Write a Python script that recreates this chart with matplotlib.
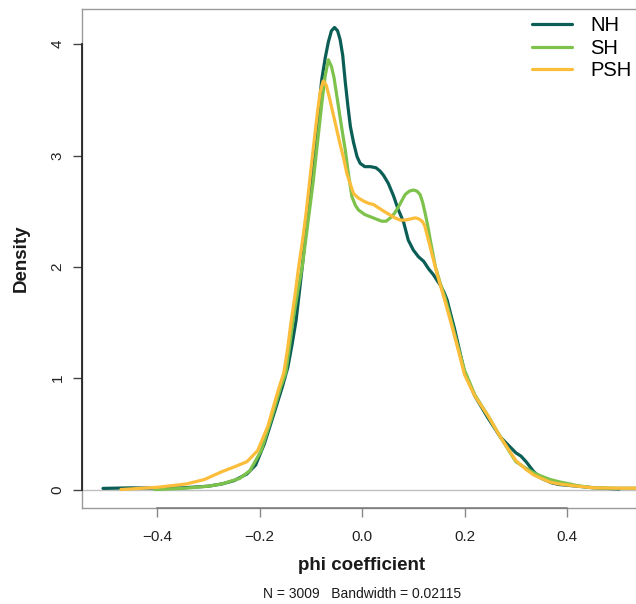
import matplotlib
matplotlib.use("Agg")
import matplotlib.pyplot as plt

plt.rcParams['font.family'] = ['Liberation Sans', 'DejaVu Sans']

# ---- data ----
series_names = ["NH", "SH", "PSH"]
series_colors = ["#0B5E55", "#7DC24B", "#FBBD3A"]

nh_x = [-0.506, -0.45, -0.40, -0.35, -0.30, -0.274, -0.25, -0.225, -0.208, -0.191,
        -0.173, -0.156, -0.145, -0.137, -0.129, -0.117, -0.106, -0.097, -0.088, -0.079,
        -0.072, -0.066, -0.060, -0.054, -0.048, -0.043, -0.038, -0.033, -0.028, -0.023,
        -0.017, -0.010, -0.004, 0.005, 0.016, 0.027, 0.035, 0.042, 0.051, 0.061,
        0.070, 0.081, 0.090, 0.100, 0.110, 0.120, 0.130, 0.139, 0.146, 0.152,
        0.160, 0.166, 0.172, 0.180, 0.190, 0.200, 0.220, 0.246, 0.270, 0.285,
        0.300, 0.310, 0.320, 0.335, 0.350, 0.370, 0.384, 0.420, 0.453, 0.502]
nh_d = [0.01, 0.015, 0.012, 0.015, 0.03, 0.05, 0.08, 0.14, 0.22, 0.41,
        0.67, 0.92, 1.10, 1.30, 1.52, 2.00, 2.50, 2.90, 3.25, 3.68,
        3.88, 4.02, 4.12, 4.15, 4.12, 4.04, 3.90, 3.66, 3.45, 3.26,
        3.12, 2.99, 2.93, 2.90, 2.90, 2.89, 2.86, 2.82, 2.75, 2.64,
        2.52, 2.40, 2.24, 2.15, 2.09, 2.05, 1.98, 1.93, 1.88, 1.84,
        1.77, 1.70, 1.59, 1.45, 1.25, 1.05, 0.84, 0.64, 0.47, 0.40,
        0.33, 0.30, 0.25, 0.16, 0.10, 0.06, 0.045, 0.03, 0.015, 0.005]

sh_x = [-0.405, -0.35, -0.30, -0.274, -0.239, -0.219, -0.197, -0.177, -0.159, -0.149,
        -0.142, -0.135, -0.125, -0.117, -0.110, -0.103, -0.096, -0.090, -0.084, -0.078,
        -0.072, -0.066, -0.060, -0.055, -0.050, -0.045, -0.040, -0.033, -0.027, -0.020,
        -0.013, -0.007, 0.005, 0.016, 0.027, 0.038, 0.047, 0.055, 0.063, 0.071,
        0.078, 0.084, 0.092, 0.100, 0.107, 0.113, 0.118, 0.123, 0.128, 0.133,
        0.138, 0.143, 0.152, 0.162, 0.172, 0.186, 0.200, 0.220, 0.246, 0.270,
        0.300, 0.320, 0.335, 0.350, 0.367, 0.384, 0.405, 0.420, 0.453, 0.500, 0.56]
sh_d = [0.0, 0.01, 0.03, 0.05, 0.10, 0.17, 0.35, 0.64, 0.92, 1.05,
        1.28, 1.52, 1.80, 2.00, 2.25, 2.50, 2.75, 3.00, 3.25, 3.50,
        3.72, 3.86, 3.80, 3.70, 3.55, 3.40, 3.25, 3.05, 2.84, 2.63,
        2.55, 2.51, 2.47, 2.45, 2.43, 2.41, 2.41, 2.44, 2.48, 2.54,
        2.60, 2.65, 2.68, 2.69, 2.68, 2.65, 2.58, 2.48, 2.37, 2.24,
        2.12, 2.00, 1.86, 1.72, 1.55, 1.30, 1.07, 0.85, 0.66, 0.47,
        0.25, 0.19, 0.15, 0.12, 0.09, 0.07, 0.05, 0.035, 0.015, 0.012, 0.012]

psh_x = [-0.471, -0.40, -0.343, -0.308, -0.274, -0.246, -0.225, -0.204, -0.184, -0.166,
         -0.153, -0.146, -0.139, -0.131, -0.124, -0.116, -0.109, -0.103, -0.097, -0.092,
         -0.087, -0.082, -0.076, -0.070, -0.064, -0.058, -0.053, -0.048, -0.043, -0.036,
         -0.030, -0.023, -0.017, -0.008, 0.003, 0.013, 0.022, 0.032, 0.042, 0.053,
         0.064, 0.074, 0.084, 0.094, 0.104, 0.111, 0.117, 0.122, 0.126, 0.131,
         0.136, 0.141, 0.146, 0.153, 0.160, 0.172, 0.186, 0.200, 0.220, 0.246,
         0.270, 0.300, 0.320, 0.335, 0.350, 0.367, 0.384, 0.420, 0.453, 0.500, 0.56]
psh_d = [0.0, 0.02, 0.05, 0.09, 0.16, 0.21, 0.25, 0.35, 0.57, 0.86,
         1.05, 1.25, 1.50, 1.75, 2.00, 2.25, 2.50, 2.75, 3.00, 3.20,
         3.40, 3.57, 3.67, 3.63, 3.52, 3.40, 3.30, 3.20, 3.10, 2.97,
         2.84, 2.74, 2.66, 2.62, 2.59, 2.57, 2.56, 2.53, 2.50, 2.47,
         2.44, 2.42, 2.42, 2.43, 2.44, 2.43, 2.41, 2.37, 2.30, 2.21,
         2.12, 2.03, 1.94, 1.83, 1.72, 1.52, 1.28, 1.03, 0.84, 0.66,
         0.47, 0.26, 0.18, 0.13, 0.10, 0.066, 0.05, 0.03, 0.015, 0.012, 0.012]

x_ticks = [-0.4, -0.2, 0.0, 0.2, 0.4]
x_tick_labels = ["\u22120.4", "\u22120.2", "0.0", "0.2", "0.4"]
y_ticks = [0, 1, 2, 3, 4]
x_label = "phi coefficient"
y_label = "Density"
subtitle = "N = 3009   Bandwidth = 0.02115"

# ---- figure ----
W, H = 636, 604
fig = plt.figure(figsize=(W / 100, H / 100), dpi=100)
ax = fig.add_axes([82 / W, 96 / H, 567 / W, 499 / H])

ax.set_xlim(-0.547, 0.56)
ax.set_ylim(-0.166, 4.316)

ax.axhline(0, color="#c0c0c0", lw=1.0, zorder=1)

for xs, ds, name, col in zip([nh_x, sh_x, psh_x], [nh_d, sh_d, psh_d],
                             series_names, series_colors):
    ax.plot(xs, ds, color=col, lw=2.3, label=name, solid_capstyle="round",
            solid_joinstyle="round", zorder=3)

for s in ax.spines.values():
    s.set_color("#9a9a9a")
    s.set_linewidth(1.0)

# R-style axis lines spanning the tick range
ax.plot([-0.547, -0.547], [0, 4], color="#222222", lw=1.3, clip_on=False, zorder=4)
ax.plot([-0.4, 0.4], [-0.166, -0.166], color="#777777", lw=1.1, clip_on=False, zorder=4)

ax.set_xticks(x_ticks)
ax.set_xticklabels(x_tick_labels)
ax.set_yticks(y_ticks)
ax.set_yticklabels([str(v) for v in y_ticks], rotation=90, va="center")
ax.tick_params(axis="x", length=6.5, width=1.0, color="#888888", pad=9,
               labelsize=11, labelcolor="#222222")
ax.tick_params(axis="y", length=6.5, width=1.0, color="#444444", pad=6,
               labelsize=11, labelcolor="#222222")

fig.text(362 / W, (H - 566) / H, x_label, ha="center", va="center",
         fontsize=13.5, fontweight="bold", color="#1a1a1a")
fig.text(362 / W, (H - 594) / H, subtitle, ha="center", va="center",
         fontsize=10, color="#1a1a1a")
fig.text(21 / W, (H - 258) / H, y_label, ha="center", va="center",
         rotation=90, fontsize=13.5, fontweight="bold", color="#1a1a1a")

fig.legend(loc="upper left", bbox_to_anchor=(532 / W, (H - 16) / H),
           frameon=False, fontsize=14.5, handlelength=2.0, handletextpad=0.9,
           labelspacing=0.18, borderpad=0, borderaxespad=0)

fig.savefig("out.png", dpi=100)
